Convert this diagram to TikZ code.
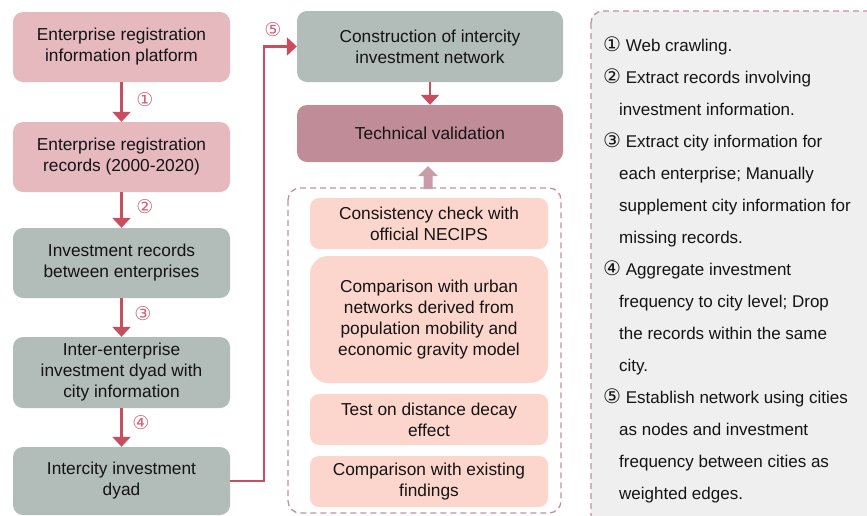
\documentclass[tikz,border=0pt]{standalone}
\usepackage{fontspec}
\setmainfont{Liberation Sans}
\newfontfamily\dejavu{DejaVu Sans}
\usetikzlibrary{arrows.meta}
\definecolor{pinkbox}{HTML}{E5B9BE}
\definecolor{graybox}{HTML}{B2BCB9}
\definecolor{techbox}{HTML}{BF8C98}
\definecolor{peach}{HTML}{FCD6CC}
\definecolor{arrowred}{HTML}{C84D5E}
\definecolor{dashpink}{HTML}{C4909F}
\definecolor{panelgray}{HTML}{EFEFEF}
\definecolor{numpink}{HTML}{C8687A}
\tikzset{
  box/.style={rounded corners=10pt, inner sep=0pt, align=center,
    font=\fontsize{17.3}{21}\selectfont, text=black!92},
  leftbox/.style={box, minimum width=217pt},
  midbox/.style={box, minimum width=266pt},
  innerbox/.style={box, fill=peach, minimum width=238pt, rounded corners=9pt},
  arr/.style={draw=arrowred, line width=2.6pt, -{Triangle[length=10pt,width=18pt]}},
  numlab/.style={font=\dejavu\fontsize{19}{19}\selectfont, text=numpink, inner sep=0pt},
  dashbox/.style={draw=dashpink, line width=1.3pt, dash pattern=on 6pt off 4pt, rounded corners=12pt},
  paneltext/.style={anchor=base west, inner sep=0pt, font=\fontsize{17}{21}\selectfont, text=black!92}
}
\newcommand{\cnum}[1]{{\dejavu\fontsize{20}{20}\selectfont #1}}
\begin{document}
\begin{tikzpicture}[x=1pt,y=-1pt]
\useasboundingbox (0,0) rectangle (867,515);
% right panel
\draw[dashbox, fill=panelgray] (591,11) rectangle (890,530);
% left column
\node[leftbox, fill=pinkbox, minimum height=70pt] (b1) at (121.5,47) {Enterprise registration\\information platform};
\node[leftbox, fill=pinkbox, minimum height=70pt] (b2) at (121.5,157) {Enterprise registration\\records (2000-2020)};
\node[leftbox, fill=graybox, minimum height=70pt] (b3) at (121.5,263) {Investment records\\between enterprises};
\node[leftbox, fill=graybox, minimum height=71pt] (b4) at (121.5,372.5) {Inter-enterprise\\investment dyad with\\city information};
\node[leftbox, fill=graybox, minimum height=68pt] (b5) at (121.5,481) {Intercity investment\\dyad};
% middle column
\node[midbox, fill=graybox, minimum height=71pt] (c1) at (430,46.5) {Construction of intercity\\investment network};
\node[midbox, fill=techbox, minimum height=57pt] (c2) at (430,133.5) {Technical validation};
% dashed validation group
\draw[dashbox] (288,188) rectangle (561,513);
\coordinate (grouptop) at (428,188);
\node[innerbox, minimum height=51pt] (v1) at (429,223.5) {Consistency check with\\official NECIPS};
\node[innerbox, minimum height=127pt, rounded corners=18pt] (v2) at (429,319.5) {Comparison with urban\\networks derived from\\population mobility and\\economic gravity model};
\node[innerbox, minimum height=51pt] (v3) at (429,419.5) {Test on distance decay\\effect};
\node[innerbox, minimum height=51pt] (v4) at (429,481.5) {Comparison with existing\\findings};
% block arrow up
\fill[techbox!85] ([xshift=-4.5pt,yshift=-1pt]grouptop) -- ([xshift=-4.5pt]grouptop |- 0,176) -- ([xshift=-10pt]grouptop |- 0,176)
  -- (grouptop |- 0,166) -- ([xshift=10pt]grouptop |- 0,176) -- ([xshift=4.5pt]grouptop |- 0,176) -- ([xshift=4.5pt,yshift=-1pt]grouptop) -- cycle;
% arrows
\draw[arr] (b1) -- (b2);
\draw[arr] (b2) -- (b3);
\draw[arr] (b3) -- (b4);
\draw[arr] (b4) -- (b5);
\draw[arr] (c1) -- (c2);
\coordinate (bend) at (264,0);
\draw[arr] (b5.east) -| (bend |- c1.west) -- (c1.west);
\node[numlab] (n1) at (145,100) {①};
\node[numlab] (n2) at (145,207) {②};
\node[numlab] (n3) at (143,314) {③};
\node[numlab] (n4) at (141,423) {④};
\node[numlab] (n5) at (273,30) {⑤};
% panel text
\foreach \x/\t [count=\i] in {
  603/{\cnum{①} Web crawling.},
  603/{\cnum{②} Extract records involving},
  619/{investment information.},
  603/{\cnum{③} Extract city information for},
  619/{each enterprise; Manually},
  619/{supplement city information for},
  619/{missing records.},
  603/{\cnum{④} Aggregate investment},
  619/{frequency to city level; Drop},
  619/{the records within the same},
  619/{city.},
  603/{\cnum{⑤} Establish network using cities},
  619/{as nodes and investment},
  619/{frequency between cities as},
  619/{weighted edges.}}
  \node[paneltext] (p\i) at (\x, 51+32*\i-32) {\t};
\end{tikzpicture}
\end{document}
